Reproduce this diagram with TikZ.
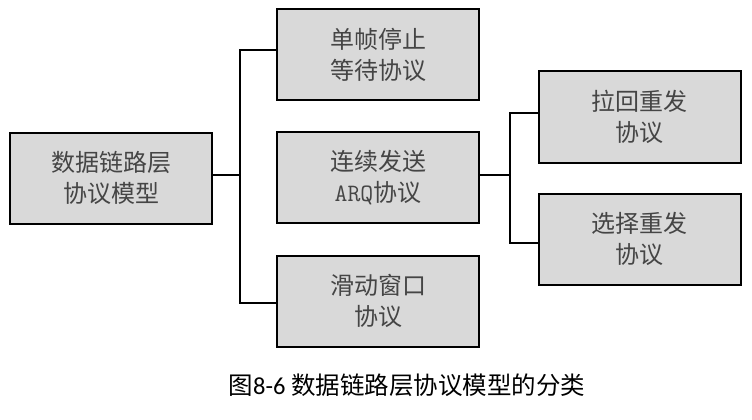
\documentclass[tikz,border=0pt]{standalone}
\usepackage{fontspec}
\newfontfamily\cjk{Noto Sans CJK SC}
\newfontfamily\capnum{Carlito}
\definecolor{boxfill}{HTML}{D9D9D9}
\definecolor{txt}{HTML}{454545}
\begin{document}
\begin{tikzpicture}[x=1pt,y=-1pt,
  box/.style={draw=black,line width=2pt,fill=boxfill,rectangle,
    minimum width=202pt,minimum height=91pt,inner sep=0pt,
    align=center,text=txt,font=\cjk\fontsize{24}{31}\selectfont},
  link/.style={draw=black,line width=2pt}]
\useasboundingbox (0,0) rectangle (752,420);

% boxes
\node[box] (L)  at (111,178)   {数据链路层\\协议模型};
\node[box] (T)  at (378,54.5)  {单帧停止\\等待协议};
\node[box] (M)  at (378,177.5) {连续发送\\{\ttfamily\fontsize{25}{31}\selectfont ARQ}协议};
\node[box] (B)  at (378,301)   {滑动窗口\\协议};
\node[box] (R1) at (639.5,117) {拉回重发\\协议};
\node[box] (R2) at (639.5,239) {选择重发\\协议};

% junction points
\coordinate (j1) at (240,175);
\coordinate (j2) at (510,175);

% connectors
\draw[link] ([yshift=3pt]L.east) -- (j1);
\draw[link] ([yshift=4.5pt]T.west) -| (j1) |- ([yshift=-2pt]B.west);
\draw[link] ([yshift=2.5pt]M.east) -- (j2);
\draw[link] ([yshift=4pt]R1.west) -| (j2) |- ([yshift=-4pt]R2.west);

% caption
\node[text=black,inner sep=0pt,font=\cjk\fontsize{24.5}{28}\selectfont] (cap) at (407,385)
  {图{\capnum 8-6}\hspace{6pt}数据链路层协议模型的分类};
\end{tikzpicture}
\end{document}
